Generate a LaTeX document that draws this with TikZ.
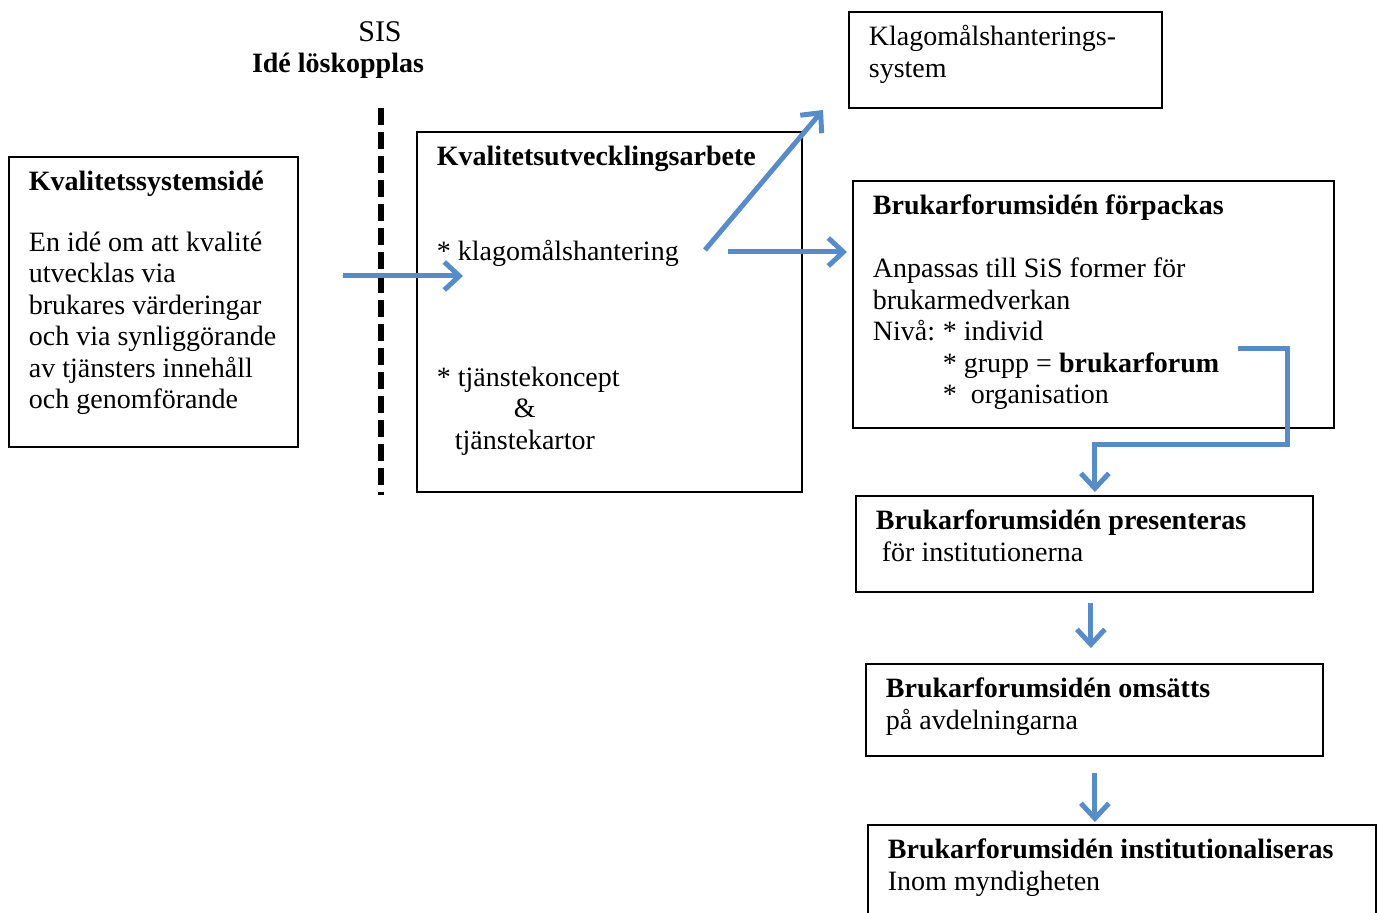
\documentclass[tikz,border=0pt]{standalone}
\usepackage{fontspec}
\setmainfont{Liberation Serif}
\usetikzlibrary{arrows.meta}
\definecolor{flowblue}{RGB}{88,140,200}
\tikzstyle{stagebox} = [draw=black, line width=0.9pt, rectangle,
    inner xsep=10pt, inner ysep=0pt, anchor=north west]
\tikzstyle{flowarrow} = [draw=flowblue, line width=2.5pt, line join=miter,
    -{Straight Barb[length=7.5pt,width=14pt,line width=2.5pt]}]
\newcommand{\boxfont}{\fontsize{14}{15.75}\selectfont\raggedright}
\newcommand{\firstline}{\rule{0pt}{17pt}}

\begin{document}
\begin{tikzpicture}[x=0.5pt,y=-0.5pt]
                \useasboundingbox (0,0) rectangle (1378,913);
                % header above the split
                \node (sis) at (380,32) {\fontsize{15}{18}\selectfont SIS};
                \node (loskopplas) at (338,66) {\boxfont\textbf{Idé löskopplas}};
                \draw[line width=2.6pt, dash pattern=on 8.5pt off 3.5pt] (381,108) -- (381,495);
                \node [stagebox] (sysid) at (8,156){%
                    \begin{minipage}[t][145pt][t]{124.5pt}\boxfont
                        \firstline\textbf{Kvalitetssystemsidé}\\[14.5pt]
                        En idé om att kvalité\\
                        utvecklas via\\
                        brukares värderingar\\
                        och via synliggörande\\
                        av tjänsters innehåll\\
                        och genomförande
                    \end{minipage}
                };
                \node [stagebox] (kvarb) at (416,131){%
                    \begin{minipage}[t][180pt][t]{172.5pt}\boxfont
                        \firstline\textbf{Kvalitetsutvecklingsarbete}\\[31.5pt]
                        * klagomålshantering\\[47.25pt]
                        * tjänstekoncept\\
                        \hspace*{38.5pt}\&\\
                        \hspace*{9pt}tjänstekartor
                    \end{minipage}
                };
                \node [stagebox] (klag) at (848,11){%
                    \begin{minipage}[t][48pt][t]{136.5pt}\boxfont
                        \firstline Klagomålshanterings-\\
                        system
                    \end{minipage}
                };
                \node [stagebox] (forp) at (852,180){%
                    \begin{minipage}[t][123.5pt][t]{220.5pt}\boxfont
                        \firstline\textbf{Brukarforumsidén förpackas}\\[15.75pt]
                        Anpassas till SiS former för\\
                        brukarmedverkan\\
                        \makebox[35pt][l]{Nivå:}* individ\\
                        \hspace*{35pt}* grupp = \textbf{brukarforum}\\
                        \hspace*{35pt}*\ \ organisation
                    \end{minipage}
                };
                \node [stagebox] (pres) at (855,495){%
                    \begin{minipage}[t][48pt][t]{208.5pt}\boxfont
                        \firstline\textbf{Brukarforumsidén presenteras}\\
                        \hspace*{3pt}för institutionerna
                    \end{minipage}
                };
                \node [stagebox] (oms) at (865,663){%
                    \begin{minipage}[t][46pt][t]{208.5pt}\boxfont
                        \firstline\textbf{Brukarforumsidén omsätts}\\
                        på avdelningarna
                    \end{minipage}
                };
                \node [stagebox] (inst) at (867,824){%
                    \begin{minipage}[t][60pt][t]{234pt}\boxfont
                        \firstline\textbf{Brukarforumsidén institutionaliseras}\\
                        Inom myndigheten
                    \end{minipage}
                };
                % arrows
                \coordinate (idein) at (343,276);
                \coordinate (klagin) at (463,276);
                \coordinate (klagout) at (705,250);
                \coordinate (systin) at (823,110);
                \coordinate (forpin) at (728,252);
                \coordinate (gruppout) at (1238,349);
                \coordinate (turn) at (1287,445);
                \draw[flowarrow] (idein) -- (klagin);
                \draw[flowarrow] (klagout) -- (systin);
                \draw[flowarrow, shorten >=2.5pt] (forpin) -- (forpin -| forp.west);
                \draw[flowarrow, shorten >=1.5pt] (gruppout) -| (turn) -| ([xshift=5.25pt]pres.north);
                \draw[flowarrow, shorten <=5pt, shorten >=7.5pt] ([xshift=3.25pt]pres.south) -- ([xshift=3.25pt]pres.south |- oms.north);
                \draw[flowarrow, shorten <=8pt, shorten >=1pt] ([xshift=0.25pt]oms.south) -- ([xshift=0.25pt]oms.south |- inst.north);
            \end{tikzpicture}
\end{document}
